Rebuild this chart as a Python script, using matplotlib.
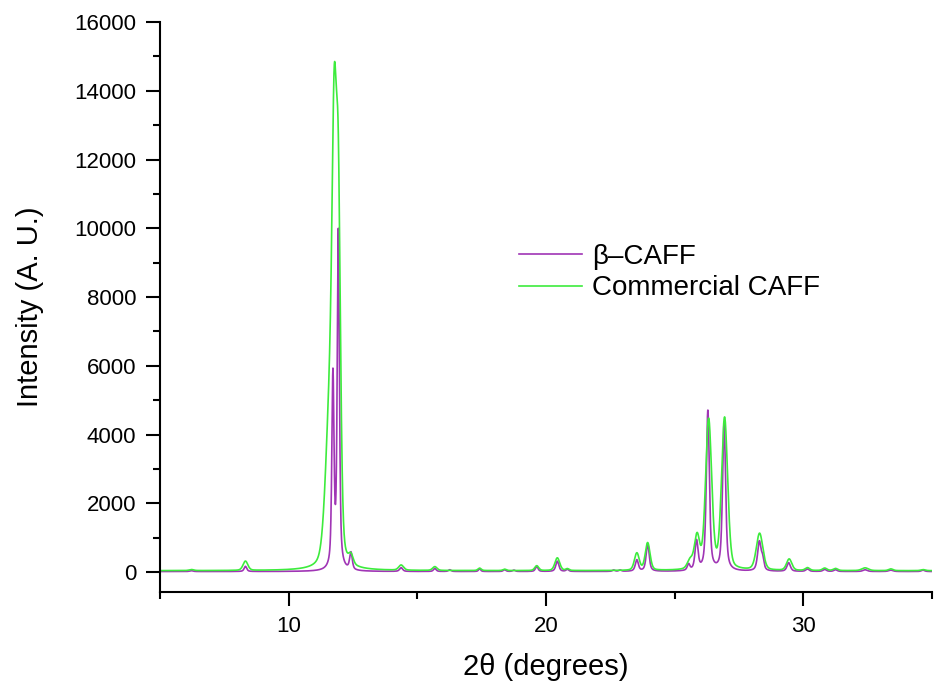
import numpy as np
import matplotlib.pyplot as plt
from matplotlib.ticker import MultipleLocator

plt.rcParams["font.family"] = ["Liberation Sans", "DejaVu Sans"]

# Peak tables: position (2theta), height, FWHM
beta_pos = [6.22, 8.32, 11.72, 11.93, 12.42, 14.37, 15.68, 16.26, 17.42, 18.39,
            18.75, 19.64, 20.44, 20.83, 22.63, 22.88, 23.53, 23.95, 25.54, 25.85,
            26.29, 26.92, 28.29, 28.42, 29.43, 30.16, 30.83, 31.25, 32.40, 33.40,
            34.65]
beta_height = [25, 150, 5600, 9800, 500, 110, 90, 50, 80, 50,
               40, 150, 300, 60, 40, 40, 330, 800, 180, 850,
               4650, 4300, 850, 300, 250, 70, 60, 50, 50, 40,
               40]
beta_fwhm = [0.15, 0.12, 0.10, 0.10, 0.12, 0.14, 0.12, 0.12, 0.10, 0.12,
             0.12, 0.12, 0.14, 0.12, 0.12, 0.12, 0.14, 0.14, 0.12, 0.14,
             0.14, 0.14, 0.16, 0.12, 0.16, 0.15, 0.15, 0.15, 0.20, 0.20,
             0.15]

comm_pos = [6.22, 8.32, 11.62, 11.77, 11.93, 12.42, 14.37, 15.68, 17.42, 18.39,
            19.64, 20.44, 20.83, 23.53, 23.95, 25.60, 25.87, 26.32, 26.94, 28.30,
            29.45, 30.16, 30.83, 31.25, 32.40, 33.40, 34.65]
comm_height = [30, 270, 4800, 9500, 9700, 260, 150, 110, 70, 40,
               140, 370, 50, 500, 800, 250, 950, 4350, 4400, 1070,
               330, 80, 70, 60, 80, 50, 30]
comm_fwhm = [0.20, 0.22, 0.40, 0.20, 0.20, 0.20, 0.22, 0.20, 0.15, 0.15,
             0.18, 0.22, 0.15, 0.22, 0.22, 0.25, 0.24, 0.28, 0.28, 0.30,
             0.24, 0.20, 0.20, 0.20, 0.30, 0.20, 0.20]

beta_background = 15
comm_background = 40


def pattern(x, pos, height, fwhm, eta, background):
    """Sum of pseudo-Voigt peaks on a flat background."""
    y = np.full_like(x, background, dtype=float)
    for p, h, w in zip(pos, height, fwhm):
        u = (x - p) / (w / 2)
        y += h * (eta / (1 + u**2) + (1 - eta) * np.exp(-np.log(2) * u**2))
    return y


two_theta = np.linspace(5, 35, 6001)
beta = pattern(two_theta, beta_pos, beta_height, beta_fwhm, 0.6, beta_background)
comm = pattern(two_theta, comm_pos, comm_height, comm_fwhm, 0.3, comm_background)

fig = plt.figure(figsize=(9.34, 6.85), dpi=100)
ax = fig.add_axes([160 / 934, 1 - 592 / 685, 772 / 934, 570 / 685])

ax.plot(two_theta, beta, color="#A035B5", lw=1.2, label="β–CAFF")
ax.plot(two_theta, comm, color="#3DEB3D", lw=1.2, label="Commercial CAFF")

ax.set_xlim(5, 35)
ax.set_ylim(-580, 16000)
ax.xaxis.set_major_locator(MultipleLocator(10))
ax.xaxis.set_minor_locator(MultipleLocator(5))
ax.yaxis.set_major_locator(MultipleLocator(2000))
ax.yaxis.set_minor_locator(MultipleLocator(1000))

ax.spines["right"].set_visible(False)
ax.spines["top"].set_visible(False)
for side in ("left", "bottom"):
    ax.spines[side].set_linewidth(1.5)
ax.tick_params(which="major", direction="out", length=10, width=1.5,
               labelsize=16, pad=7)
ax.tick_params(which="minor", direction="out", length=5, width=1.5)

ax.set_xlabel("2θ (degrees)", fontsize=21, labelpad=12)
ax.set_ylabel("Intensity (A. U.)", fontsize=21, labelpad=22)

ax.legend(loc="center left", bbox_to_anchor=(0.465, 0.5605), frameon=False,
          fontsize=20, handlelength=2.27, handletextpad=0.36, borderpad=0,
          borderaxespad=0, labelspacing=0.2)

fig.savefig("out.png", dpi=100)
